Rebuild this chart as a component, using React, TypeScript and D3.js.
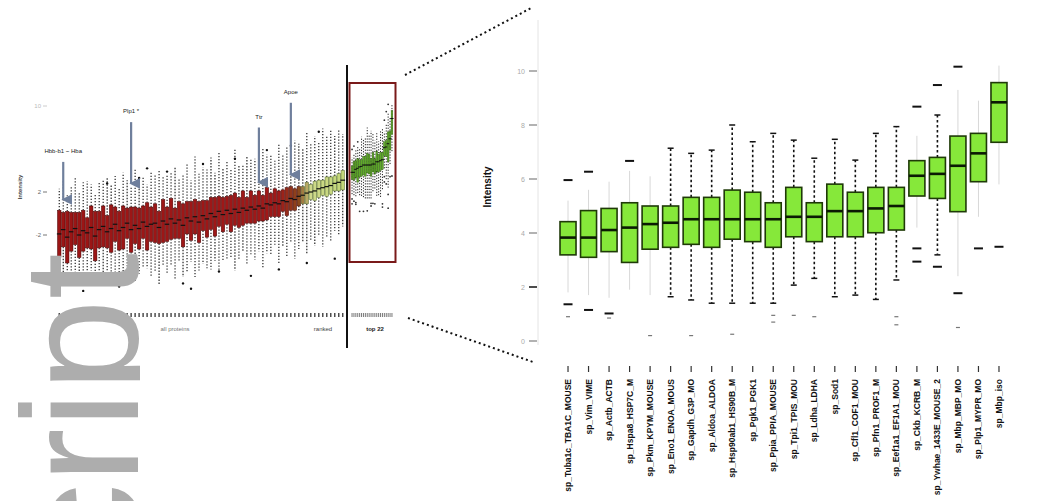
import React from "react";
import * as d3 from "d3";

// ---- right panel: the 22 top ranked proteins (zoomed view) ----
const proteins = [
  "sp_Tuba1c_TBA1C_MOUSE", "sp_Vim_VIME", "sp_Actb_ACTB", "sp_Hspa8_HSP7C_M",
  "sp_Pkm_KPYM_MOUSE", "sp_Eno1_ENOA_MOUS", "sp_Gapdh_G3P_MO", "sp_Aldoa_ALDOA",
  "sp_Hsp90ab1_HS90B_M", "sp_Pgk1_PGK1", "sp_Ppia_PPIA_MOUSE", "sp_Tpi1_TPIS_MOU",
  "sp_Ldha_LDHA", "sp_Sod1", "sp_Cfl1_COF1_MOU", "sp_Pfn1_PROF1_M",
  "sp_Eef1a1_EF1A1_MOU", "sp_Ckb_KCRB_M", "sp_Ywhae_1433E_MOUSE_2", "sp_Mbp_MBP_MO",
  "sp_Plp1_MYPR_MO", "sp_Mbp_iso",
];
const boxQ1 = [3.19, 3.1, 3.31, 2.91, 3.4, 3.47, 3.58, 3.47, 3.77, 3.68, 3.47, 3.86, 3.68, 3.86, 3.86, 4.01, 4.11, 5.37, 5.28, 4.79, 5.9, 7.36];
const boxMedian = [3.83, 3.83, 4.11, 4.2, 4.33, 4.38, 4.51, 4.51, 4.51, 4.51, 4.51, 4.6, 4.6, 4.81, 4.81, 4.91, 5.0, 6.12, 6.19, 6.49, 6.95, 8.84];
const boxQ3 = [4.42, 4.83, 4.91, 5.12, 5.0, 5.0, 5.32, 5.32, 5.59, 5.51, 5.12, 5.69, 5.12, 5.81, 5.51, 5.69, 5.69, 6.68, 6.8, 7.59, 7.69, 9.57];
const whiskerLo = [1.8, 1.7, 1.6, 1.9, 1.7, 1.64, 1.52, 1.4, 1.4, 1.4, 1.4, 2.07, 2.32, 1.64, 1.7, 1.54, 2.26, 4.2, 3.19, 2.4, 4.6, 5.8];
const whiskerHi = [5.2, 5.6, 5.9, 6.3, 6.1, 7.14, 6.95, 7.07, 8.0, 7.38, 7.69, 7.44, 6.77, 7.47, 6.7, 7.69, 7.94, 7.6, 8.37, 9.3, 8.9, 10.2];
const dottedWhisker = [false, false, false, false, false, true, true, true, true, true, true, true, true, true, true, true, true, false, true, false, false, false];
const outliers: [number, number][] = [
  [0, 5.96], [0, 1.36], [0, 0.9], [1, 6.27], [1, 1.15], [2, 1.02], [2, 0.85], [3, 6.67],
  [4, 0.2], [6, 0.2], [8, 0.25], [10, 0.95], [10, 0.7], [11, 0.95], [12, 0.9], [16, 0.9],
  [16, 0.6], [17, 8.68], [17, 3.43], [17, 2.94], [18, 9.48], [18, 2.75], [19, 10.16],
  [19, 1.77], [19, 0.5], [20, 3.43], [21, 3.49],
];
const rightTicks = [0, 2, 4, 6, 8, 10];

// ---- left panel: all proteins ranked by median ----
const rankMedian = [
  -1.9, -1.5, -2.2, -1.7, -1.4, -2.0, -1.6, -1.8, -1.3, -2.1, -1.5,
  -1.2, -1.7, -1.4, -1.0, -1.6, -1.3, -0.9, -1.5, -1.1, -1.4, -0.8, -1.2, -1.0,
  -0.9, -1.3, -0.7, -1.0, -0.5, -0.9, -0.6, -1.1, -0.4, -0.7, -0.3, -0.8, -0.2,
  -0.5, 0.0, -0.3, 0.2, -0.1, 0.3, 0.0, 0.4, 0.1, 0.5, 0.3, 0.6, 0.4,
  0.7, 0.5, 0.9, 0.8, 1.0, 0.9, 1.2, 1.1, 1.4, 1.3,
  1.6, 1.7, 1.9, 2.0, 2.1, 2.3, 2.4, 2.5, 2.6, 2.8, 2.9, 3.1,
];
const rankSpread = [
  2.2, 1.6, 2.4, 1.8, 1.5, 2.1, 1.9, 1.4, 2.0, 2.3, 1.7,
  1.9, 1.5, 2.2, 1.6, 1.8, 2.0, 1.4, 2.1, 1.7, 1.9, 1.5, 2.2, 1.6,
  1.8, 1.5, 2.0, 1.6, 1.9, 1.4, 1.7, 2.0, 1.5, 1.8, 1.6, 1.9, 1.4,
  1.7, 1.5, 1.8, 1.4, 1.6, 1.3, 1.7, 1.5, 1.4, 1.6, 1.2, 1.5, 1.3,
  1.4, 1.2, 1.5, 1.1, 1.3, 1.2, 1.0, 1.3, 1.1, 1.0,
  0.9, 0.8, 1.0, 0.7, 0.9, 0.8, 0.7, 0.9, 0.8, 0.7, 0.8, 0.9,
];
const rankWhisker = [
  2.0, 3.0, 1.5, 2.5, 3.2, 1.8, 2.6, 3.4, 2.0, 1.6, 2.8,
  2.4, 3.5, 1.8, 2.9, 2.2, 3.1, 2.6, 1.9, 3.6, 2.3, 2.8, 1.7, 3.3,
  2.7, 3.8, 2.1, 3.0, 2.4, 3.9, 2.2, 2.8, 3.5, 2.0, 4.0, 2.6, 3.1,
  2.9, 3.7, 2.3, 4.1, 2.7, 3.3, 2.5, 4.2, 3.0, 2.4, 3.8, 2.9, 3.4,
  2.8, 4.3, 3.1, 3.6, 2.6, 4.4, 3.2, 3.9, 3.0, 4.5,
  4.0, 3.5, 4.6, 3.8, 4.2, 3.6, 4.8, 3.9, 4.4, 3.7, 4.1, 3.4,
];
const rankOutliers: [number, number][] = [
  [3, -6.4], [8, -5.9], [12, 2.8], [15, -6.8], [20, 3.3], [22, 4.2], [27, 3.9], [31, -6.5],
  [36, 4.6], [40, -5.4], [44, 5.1], [48, -5.8], [52, 5.9], [55, -5.2], [58, 6.3], [62, -4.6],
  [65, 7.6], [69, -4.2], [6, -7.2], [33, -7.0],
];
const leftTicks = [-2, 2, 10];
const annotIdx = [1, 18, 50, 58];
const annotFrom = [4.8, 8.5, 8.0, 10.3];
const annotTo = [1.3, 2.8, 2.9, 3.6];
const annotLabels = ["Hbb-b1 ~ Hba", "Plp1 *", "Ttr", "Apoe"];

const FONT = "'Liberation Sans', Arial, sans-serif";

export default function App() {
  // right panel scales
  const xR = d3.scaleBand<string>().domain(proteins).range([555.5, 1011.5]).padding(0.22);
  const yR = d3.scaleLinear().domain([0, 10]).range([341, 71]);
  // left panel scales
  const rankIds = d3.range(rankMedian.length).map(String);
  const xL = d3.scaleBand<string>().domain(rankIds).range([57, 345]).padding(0.12);
  const xLg = d3.scaleBand<string>().domain(proteins).range([351, 393]).padding(0.1);
  const yL = d3.scaleLinear().domain([-2, 2]).range([235, 192]);
  const rankColor = d3
    .scaleLinear<string>()
    .domain([0, 55, 60, 63, 71])
    .range(["#9b1515", "#a01818", "#8a4a1c", "#cfd98a", "#c2d77a"]);

  const bw = xR.bandwidth();
  const lw = xL.bandwidth();
  const gw = xLg.bandwidth();

  return (
    <svg
      width={1040}
      height={501}
      style={{ position: "absolute", left: 0, top: 0, background: "#fff", fontFamily: FONT }}
    >
      <defs>
        <clipPath id="wmClip">
          <rect x={0} y={0} width={140} height={501} />
        </clipPath>
        <marker id="arrowHead" viewBox="0 0 6 6" refX={3} refY={5} markerWidth={5} markerHeight={5} orient="auto-start-reverse">
          <path d="M0,0 L6,0 L3,6 Z" fill="#6f7f9c" />
        </marker>
      </defs>

      {/* ---------------- left panel ---------------- */}
      <text transform="translate(22,187) rotate(-90)" fontSize={6} fontWeight="bold" fill="#444" textAnchor="middle">
        Intensity
      </text>
      {leftTicks.map((t) => (
        <g key={"lt" + t}>
          <text x={41} y={yL(t) + 2} fontSize={6} fill={t === 10 ? "#bbb" : "#666"} textAnchor="end">
            {t}
          </text>
          <line x1={43} x2={47} y1={yL(t)} y2={yL(t)} stroke={t === 10 ? "#ccc" : "#777"} />
        </g>
      ))}

      {/* whiskers */}
      {rankMedian.map((m, i) => {
        const cx = xL(String(i))! + lw / 2;
        const s = rankSpread[i];
        const w = rankWhisker[i];
        return (
          <g key={"lw" + i} stroke="#111" strokeWidth={1.1} strokeDasharray="1.3,1.7">
            <line x1={cx} x2={cx} y1={yL(m + s)} y2={yL(m + s + w)} />
            <line x1={cx} x2={cx} y1={yL(m - s)} y2={yL(m - s - w)} />
          </g>
        );
      })}
      {rankOutliers.map(([i, v], k) => (
        <circle key={"lo" + k} cx={xL(String(i))! + lw / 2} cy={yL(v)} r={1.2} fill="#111" />
      ))}
      {/* boxes */}
      {rankMedian.map((m, i) => {
        const x = xL(String(i))!;
        const s = rankSpread[i];
        return (
          <g key={"lb" + i}>
            <rect
              x={x}
              y={yL(m + s)}
              width={lw}
              height={yL(m - s) - yL(m + s)}
              fill={rankColor(i)}
              stroke={i > 60 ? "#556b2f" : "#4a0606"}
              strokeWidth={0.5}
            />
            <line x1={x - 0.6} x2={x + lw + 0.6} y1={yL(m)} y2={yL(m)} stroke="#111" strokeWidth={1.2} />
          </g>
        );
      })}

      {/* green (top 22) inside the left overview */}
      {proteins.map((p, i) => {
        const cx = xLg(p)! + gw / 2;
        return (
          <g key={"lg" + i}>
            <line x1={cx} x2={cx} y1={yL(whiskerLo[i])} y2={yL(whiskerHi[i])} stroke="#222" strokeWidth={1} strokeDasharray="1.2,1.6" />
            <rect x={xLg(p)!} y={yL(boxQ3[i])} width={gw} height={yL(boxQ1[i]) - yL(boxQ3[i])} fill="#5faa2a" stroke="#2f5a10" strokeWidth={0.4} />
            <line x1={cx - 1.6} x2={cx + 1.6} y1={yL(boxMedian[i])} y2={yL(boxMedian[i])} stroke="#111" strokeWidth={1} />
          </g>
        );
      })}
      {outliers.map(([i, v], k) => (
        <circle key={"lgo" + k} cx={xLg(proteins[i])! + gw / 2} cy={yL(v)} r={0.9} fill="#333" />
      ))}

      {/* annotation arrows */}
      {annotIdx.map((idx, k) => {
        const cx = xL(String(idx))! + lw / 2;
        return (
          <g key={"an" + k}>
            <line
              x1={cx}
              x2={cx}
              y1={yL(annotFrom[k])}
              y2={yL(annotTo[k])}
              stroke="#6f7f9c"
              strokeWidth={2.2}
              markerEnd="url(#arrowHead)"
            />
            <text x={cx} y={yL(annotFrom[k]) - 9} fontSize={6} fill="#222" textAnchor="middle">
              {annotLabels[k]}
            </text>
          </g>
        );
      })}

      {/* left x axis (one tick per protein) */}
      {rankIds.map((id) => (
        <line key={"lx" + id} x1={xL(id)! + lw / 2} x2={xL(id)! + lw / 2} y1={313} y2={317} stroke="#333" strokeWidth={1.3} />
      ))}
      {proteins.map((p) => (
        <line key={"lxg" + p} x1={xLg(p)! + gw / 2} x2={xLg(p)! + gw / 2} y1={313} y2={317} stroke="#555" strokeWidth={0.8} />
      ))}
      <text x={175} y={331} fontSize={6} fill="#777" textAnchor="middle">all proteins</text>
      <text x={323} y={331} fontSize={6} fill="#444" textAnchor="middle">ranked</text>
      <text x={375} y={331} fontSize={6} fill="#222" fontWeight="bold" textAnchor="middle">top 22</text>

      {/* divider and highlight box */}
      <line x1={347} x2={347} y1={65} y2={348} stroke="#111" strokeWidth={2} />
      <rect x={349.5} y={83} width={46} height={179} fill="none" stroke="#7a1a1a" strokeWidth={2} />

      {/* zoom connectors */}
      <line x1={405} y1={75} x2={533} y2={7} stroke="#111" strokeWidth={2} strokeDasharray="2,3" />
      <line x1={408} y1={318} x2={533} y2={362} stroke="#111" strokeWidth={2} strokeDasharray="2,3" />

      {/* ---------------- right panel ---------------- */}
      <line x1={538} x2={538} y1={20} y2={345} stroke="#e4e4e4" />
      <text transform="translate(491,187) rotate(-90)" fontSize={10} fontWeight="bold" fill="#111" textAnchor="middle">
        Intensity
      </text>
      {rightTicks.map((t) => (
        <g key={"rt" + t}>
          <line x1={529} x2={537} y1={yR(t)} y2={yR(t)} stroke={t === 2 ? "#111" : "#999"} strokeWidth={1.5} />
          <text x={525} y={yR(t) + 2.5} fontSize={7} fill="#aaa" textAnchor="end">
            {t}
          </text>
        </g>
      ))}

      {proteins.map((p, i) => {
        const cx = xR(p)! + bw / 2;
        const dotted = dottedWhisker[i];
        return (
          <g key={"rw" + i}>
            <line
              x1={cx}
              x2={cx}
              y1={yR(boxQ3[i])}
              y2={yR(whiskerHi[i])}
              stroke={dotted ? "#111" : "#d8d8d8"}
              strokeWidth={dotted ? 1.6 : 1}
              strokeDasharray={dotted ? "2.5,2.5" : undefined}
            />
            <line
              x1={cx}
              x2={cx}
              y1={yR(boxQ1[i])}
              y2={yR(whiskerLo[i])}
              stroke={dotted ? "#111" : "#d8d8d8"}
              strokeWidth={dotted ? 1.6 : 1}
              strokeDasharray={dotted ? "2.5,2.5" : undefined}
            />
            {dotted && (
              <g stroke="#111" strokeWidth={1.5}>
                <line x1={cx - 3} x2={cx + 3} y1={yR(whiskerHi[i])} y2={yR(whiskerHi[i])} />
                <line x1={cx - 3} x2={cx + 3} y1={yR(whiskerLo[i])} y2={yR(whiskerLo[i])} />
              </g>
            )}
          </g>
        );
      })}
      {proteins.map((p, i) => {
        const x = xR(p)!;
        return (
          <g key={"rb" + i}>
            <rect
              x={x}
              y={yR(boxQ3[i])}
              width={bw}
              height={yR(boxQ1[i]) - yR(boxQ3[i])}
              fill="#86e83a"
              stroke="#1f3a08"
              strokeWidth={1.6}
            />
            <line x1={x} x2={x + bw} y1={yR(boxMedian[i])} y2={yR(boxMedian[i])} stroke="#0b1a04" strokeWidth={2.6} />
          </g>
        );
      })}
      {outliers.map(([i, v], k) => {
        const cx = xR(proteins[i])! + bw / 2;
        const small = v < 1;
        return (
          <line
            key={"ro" + k}
            x1={cx - (small ? 2 : 4.5)}
            x2={cx + (small ? 2 : 4.5)}
            y1={yR(v)}
            y2={yR(v)}
            stroke={small ? "#777" : "#111"}
            strokeWidth={small ? 1.2 : 2}
          />
        );
      })}

      {/* category axis */}
      {proteins.map((p, i) => {
        const cx = xR(p)! + bw / 2;
        return (
          <g key={"rl" + i}>
            <line x1={cx} x2={cx} y1={366} y2={372} stroke="#333" strokeWidth={1.2} />
            <text
              transform={`translate(${cx + 3},379) rotate(-90)`}
              fontSize={8.5}
              fontWeight="bold"
              fill="#111"
              textAnchor="end"
            >
              {p}
            </text>
          </g>
        );
      })}

      {/* manuscript watermark, clipped at the page edge */}
      <g clipPath="url(#wmClip)">
        <text
          transform="translate(138,253) rotate(-90)"
          fontSize={166}
          fill="#adadad"
          textAnchor="end"
          fontFamily={FONT}
        >
          Author Manuscript
        </text>
      </g>
    </svg>
  );
}
